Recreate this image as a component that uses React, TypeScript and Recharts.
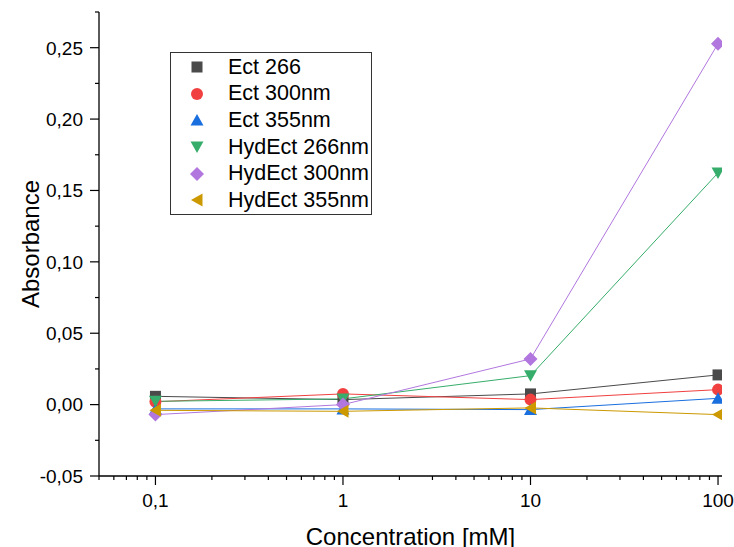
import { Legend, Line, LineChart, XAxis, YAxis } from "recharts";

// concentrations in mM (log axis)
const concentrations = [0.1, 1, 10, 100];

const ect266 = [0.0058, 0.0035, 0.0075, 0.0208];
const ect300 = [0.002, 0.0075, 0.0035, 0.0105];
const ect355 = [-0.003, -0.003, -0.0035, 0.0044];
const hydEct266 = [0.0023, 0.004, 0.0203, 0.1623];
const hydEct300 = [-0.007, 0.0, 0.032, 0.2528];
const hydEct355 = [-0.004, -0.0047, -0.0023, -0.007];

const xMajorTicks = [0.1, 1, 10, 100];
const xMinorTicks = [
  0.05, 0.06, 0.07, 0.08, 0.09,
  0.2, 0.3, 0.4, 0.5, 0.6, 0.7, 0.8, 0.9,
  2, 3, 4, 5, 6, 7, 8, 9,
  20, 30, 40, 50, 60, 70, 80, 90,
];
const yMajorTicks = [-0.05, 0, 0.05, 0.1, 0.15, 0.2, 0.25];
const yMinorTicks = [-0.025, 0.025, 0.075, 0.125, 0.175, 0.225, 0.275];

type Shape = "square" | "circle" | "up" | "down" | "diamond" | "left";

const series: { key: string; name: string; color: string; shape: Shape; values: number[] }[] = [
  { key: "ect266", name: "Ect 266", color: "#4a4a4a", shape: "square", values: ect266 },
  { key: "ect300", name: "Ect 300nm", color: "#f14040", shape: "circle", values: ect300 },
  { key: "ect355", name: "Ect 355nm", color: "#1a6fdf", shape: "up", values: ect355 },
  { key: "hydEct266", name: "HydEct 266nm", color: "#37ad6b", shape: "down", values: hydEct266 },
  { key: "hydEct300", name: "HydEct 300nm", color: "#b177de", shape: "diamond", values: hydEct300 },
  { key: "hydEct355", name: "HydEct 355nm", color: "#cc9900", shape: "left", values: hydEct355 },
];

const data = concentrations.map((c, i) => {
  const row: Record<string, number> = { c };
  series.forEach((s) => (row[s.key] = s.values[i]));
  return row;
});

const FONT = '"Liberation Sans", Arial, sans-serif';

function Marker({ shape, cx, cy, color }: { shape: Shape; cx: number; cy: number; color: string }) {
  switch (shape) {
    case "square":
      return <rect x={cx - 5.5} y={cy - 5.5} width={11} height={11} fill={color} />;
    case "circle":
      return <circle cx={cx} cy={cy} r={6} fill={color} />;
    case "up":
      return <polygon points={`${cx},${cy - 6} ${cx + 6.5},${cy + 5.5} ${cx - 6.5},${cy + 5.5}`} fill={color} />;
    case "down":
      return <polygon points={`${cx},${cy + 6} ${cx + 6.5},${cy - 5.5} ${cx - 6.5},${cy - 5.5}`} fill={color} />;
    case "diamond":
      return <polygon points={`${cx},${cy - 7} ${cx + 7},${cy} ${cx},${cy + 7} ${cx - 7},${cy}`} fill={color} />;
    case "left":
      return <polygon points={`${cx - 6},${cy} ${cx + 5.5},${cy - 6.5} ${cx + 5.5},${cy + 6.5}`} fill={color} />;
  }
}

const isMajorX = (v: number) => xMajorTicks.some((t) => Math.abs(t - v) < 1e-9);
const isMajorY = (v: number) => yMajorTicks.some((t) => Math.abs(t - v) < 1e-9);

function XTick({ x, y, payload }: any) {
  const major = isMajorX(payload.value);
  return (
    <g>
      <line x1={x} x2={x} y1={y} y2={y + (major ? 9 : 4)} stroke="#000" strokeWidth={1.2} />
      {major && (
        <text x={x} y={y + 31} textAnchor="middle" fontSize={19} fontFamily={FONT} fill="#000">
          {String(payload.value).replace(".", ",")}
        </text>
      )}
    </g>
  );
}

function YTick({ x, y, payload }: any) {
  const major = isMajorY(payload.value);
  return (
    <g>
      <line x1={x} x2={x - (major ? 9 : 4)} y1={y} y2={y} stroke="#000" strokeWidth={1.2} />
      {major && (
        <text x={x - 16} y={y} dy="0.36em" textAnchor="end" fontSize={19} fontFamily={FONT} fill="#000">
          {payload.value.toFixed(2).replace(".", ",")}
        </text>
      )}
    </g>
  );
}

function LegendBox() {
  return (
    <div
      style={{
        width: 202,
        height: 163,
        border: "1px solid #333",
        background: "#fff",
        boxSizing: "border-box",
        paddingTop: 1,
        fontFamily: FONT,
        fontSize: 21.5,
        color: "#000",
      }}
    >
      {series.map((s) => (
        <div key={s.key} style={{ height: 26.6, display: "flex", alignItems: "center" }}>
          <svg width={54} height={26} style={{ flex: "none" }}>
            <Marker shape={s.shape} cx={26} cy={13} color={s.color} />
          </svg>
          <span style={{ marginLeft: 3, whiteSpace: "nowrap" }}>{s.name}</span>
        </div>
      ))}
    </div>
  );
}

export default function App() {
  return (
    <div style={{ position: "fixed", left: 0, top: 0, width: 734, height: 547, overflow: "hidden", background: "#fff" }}>
      <LineChart width={734} height={547} data={data} margin={{ top: 12, right: 12, bottom: 0, left: 0 }}>
        <XAxis
          dataKey="c"
          type="number"
          scale="log"
          domain={[0.05, 105]}
          allowDataOverflow
          ticks={[...xMinorTicks, ...xMajorTicks].sort((a, b) => a - b)}
          interval={0}
          tickSize={0}
          tickMargin={0}
          tickLine={false}
          tick={<XTick />}
          axisLine={{ stroke: "#000", strokeWidth: 1.3 }}
          height={71}
          label={({ viewBox }: any) => (
            <text
              x={viewBox.x + viewBox.width / 2}
              y={viewBox.y + viewBox.height - 2}
              textAnchor="middle"
              fontSize={24}
              fontFamily={FONT}
              fill="#000"
            >
              Concentration [mM]
            </text>
          )}
        />
        <YAxis
          type="number"
          domain={[-0.05, 0.275]}
          allowDataOverflow
          ticks={[...yMinorTicks, ...yMajorTicks].sort((a, b) => a - b)}
          interval={0}
          tickSize={0}
          tickMargin={0}
          tickLine={false}
          tick={<YTick />}
          axisLine={{ stroke: "#000", strokeWidth: 1.3 }}
          width={99}
          label={({ viewBox }: any) => {
            const cx = viewBox.x + 30;
            const cy = viewBox.y + viewBox.height / 2;
            return (
              <text
                x={cx}
                y={cy}
                dy="0.36em"
                transform={`rotate(-90, ${cx}, ${cy})`}
                textAnchor="middle"
                fontSize={24}
                fontFamily={FONT}
                fill="#000"
              >
                Absorbance
              </text>
            );
          }}
        />
        <Legend
          layout="vertical"
          align="center"
          verticalAlign="middle"
          content={() => <LegendBox />}
          wrapperStyle={{ left: 170, top: 52, width: "auto" }}
        />
        {series.map((s) => (
          <Line
            key={s.key}
            dataKey={s.key}
            name={s.name}
            type="linear"
            stroke={s.color}
            strokeWidth={1}
            isAnimationActive={false}
            activeDot={false}
            dot={(p: any) => <Marker key={`${s.key}-${p.index}`} shape={s.shape} cx={p.cx} cy={p.cy} color={s.color} />}
          />
        ))}
      </LineChart>
    </div>
  );
}
